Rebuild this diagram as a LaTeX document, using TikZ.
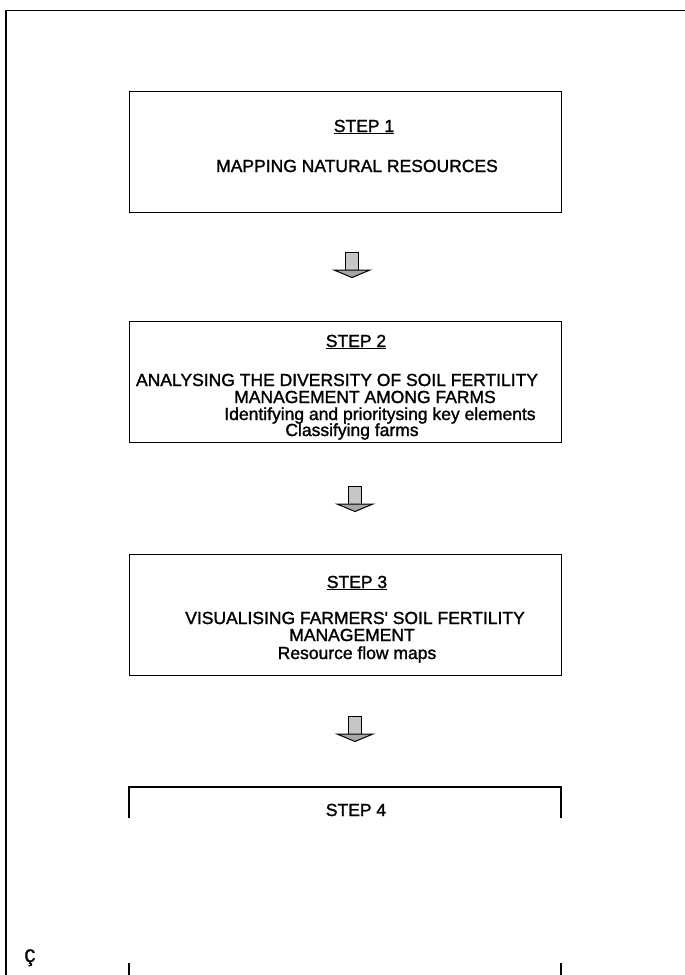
\documentclass[tikz,border=0pt]{standalone}
\usepackage{fontspec}
\setmainfont{Liberation Sans}
\newfontfamily\heavy[FakeBold=1.4]{Liberation Sans}
\newfontfamily\monof[FakeBold=1.5]{Liberation Mono}
\usetikzlibrary{calc}
\begin{document}
\begin{tikzpicture}[x=1pt,y=-1pt,
  stepbox/.style={draw=black, line width=1.2pt, inner sep=0pt, minimum width=432pt, minimum height=121pt, anchor=north west},
  txt/.style={anchor=base, inner sep=0pt, font=\heavy\fontsize{17.5}{17.5}\selectfont},
  shaft/.style={draw=black, line width=0.9pt, fill=gray!45},
  head/.style={draw=black, line width=1pt, fill=gray!70}]
\useasboundingbox (0,0) rectangle (685,975);
% outer frame
\draw[line width=1.8pt] (6,975) -- (6,10.5) -- (685,10.5);
% boxes
\node[stepbox] (b1) at (129,91) {};
\node[stepbox] (b2) at (129,321) {};
\node[stepbox] (b3) at (129,554) {};
% box 4 (partial)
\coordinate (b4nw) at (129,787);
\coordinate (b4ne) at (561,787);
\draw[line width=1.2pt] ($(b4nw)+(0,31)$) -- (b4nw) -- (b4ne) -- ($(b4ne)+(0,31)$);
\draw[line width=1.2pt] ($(b4nw)+(0,176)$) -- ($(b4nw)+(0,188)$);
\draw[line width=1.2pt] ($(b4ne)+(0,176)$) -- ($(b4ne)+(0,188)$);
% texts
\node[txt] (s1) at (364,132) {\underline{STEP 1}};
\node[txt] (t1) at (357,172) {MAPPING NATURAL RESOURCES};
\node[txt] (s2) at (356,347) {\underline{STEP 2}};
\node[txt] (t2a) at (337,386) {ANALYSING THE DIVERSITY OF SOIL FERTILITY};
\node[txt] (t2b) at (365,403) {MANAGEMENT AMONG FARMS};
\node[txt] (t2c) at (380,420) {Identifying and prioritysing key elements};
\node[txt] (t2d) at (352,436) {Classifying farms};
\node[txt] (s3) at (357,588) {\underline{STEP 3}};
\node[txt] (t3a) at (355,624) {VISUALISING FARMERS' SOIL FERTILITY};
\node[txt] (t3b) at (352,641) {MANAGEMENT};
\node[txt] (t3c) at (357,659) {Resource flow maps};
\node[txt] (s4) at (356,816) {STEP 4};
\node[anchor=base, inner sep=0pt, font=\monof\fontsize{19}{19}\selectfont] (cc) at (30,962) {Ç};
% block arrows
\coordinate (a1) at (352,252);
\coordinate (a2) at (355,486);
\coordinate (a3) at (355,716);
\foreach \a in {a1,a2,a3}{
  \draw[shaft] ($(\a)+(-6.5,0)$) rectangle ($(\a)+(6.5,18)$);
  \draw[head] ($(\a)+(-18,18)$) -- ($(\a)+(18,18)$) -- ($(\a)+(0,25.5)$) -- cycle;
}
\end{tikzpicture}
\end{document}
